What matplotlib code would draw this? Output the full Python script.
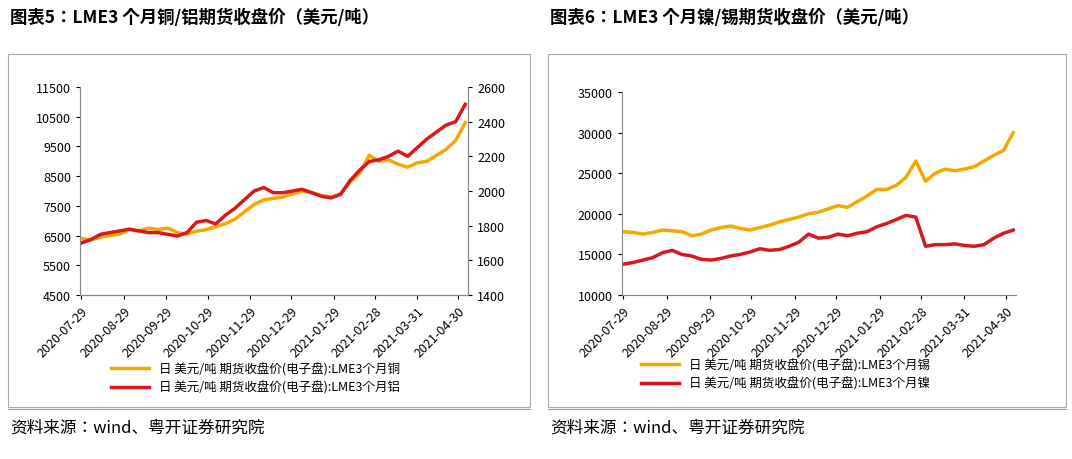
import matplotlib
matplotlib.use("Agg")
import matplotlib.pyplot as plt
import pandas as pd
from matplotlib.patches import Rectangle
from matplotlib import font_manager as fm

cjk = sorted({f.name for f in fm.fontManager.ttflist if 'CJK' in f.name and 'Sans' in f.name})
pref = [n for n in cjk if n.endswith('SC')] + [n for n in cjk if 'SC' in n] + cjk
plt.rcParams['font.family'] = (pref[:1] if pref else []) + ['DejaVu Sans']

copper = [6400, 6350, 6450, 6500, 6550, 6700, 6650, 6750, 6700, 6750, 6600, 6550, 6650, 6700, 6800, 6900, 7050,
          7300, 7550, 7700, 7750, 7800, 7900, 8000, 7950, 7850, 7800, 7900, 8300, 8600, 9200, 9000, 9050, 8900,
          8800, 8950, 9000, 9200, 9400, 9700, 10300]
alum = [1700, 1720, 1750, 1760, 1770, 1780, 1770, 1760, 1760, 1750, 1740, 1760, 1820, 1830, 1810, 1860, 1900,
        1950, 2000, 2020, 1990, 1990, 2000, 2010, 1990, 1970, 1960, 1980, 2060, 2120, 2170, 2180, 2200, 2230,
        2200, 2250, 2300, 2340, 2380, 2400, 2500]
tin = [17800, 17700, 17500, 17700, 18000, 17900, 17800, 17300, 17500, 18000, 18300, 18500, 18200, 18000, 18300,
       18600, 19000, 19300, 19600, 20000, 20200, 20600, 21000, 20800, 21500, 22200, 23000, 23000, 23500, 24500,
       26500, 24000, 25000, 25500, 25300, 25500, 25800, 26500, 27200, 27800, 30000]
nickel = [13800, 14000, 14300, 14600, 15200, 15500, 15000, 14800, 14400, 14300, 14500, 14800, 15000, 15300, 15700,
          15500, 15600, 16000, 16500, 17500, 17000, 17100, 17500, 17300, 17600, 17800, 18400, 18800, 19300, 19800,
          19600, 16000, 16200, 16200, 16300, 16100, 16000, 16200, 17000, 17600, 18000]
dates = pd.date_range('2020-07-29', periods=len(copper), freq='7D')
ticks = pd.to_datetime(['2020-07-29', '2020-08-29', '2020-09-29', '2020-10-29', '2020-11-29', '2020-12-29',
                        '2021-01-29', '2021-02-28', '2021-03-31', '2021-04-30'])
tick_labels = [t.strftime('%Y-%m-%d') for t in ticks]

ORANGE = '#f5a800'
RED = '#d7191c'

fig = plt.figure(figsize=(10.72, 4.6), dpi=100)
W, H = 1072, 460
def ax_px(x0, y0, x1, y1):
    return fig.add_axes([x0 / W, 1 - y1 / H, (x1 - x0) / W, (y1 - y0) / H])

for x0, x1 in [(8, 530), (548, 1066)]:
    fig.patches.append(Rectangle((x0 / W, 1 - 408 / H), (x1 - x0) / W, (408 - 55) / H,
                                 transform=fig.transFigure, fill=False, ec='#aaaaaa', lw=0.8))
    fig.add_artist(plt.Line2D([x0 / W, x1 / W], [1 - 410 / H] * 2, color='#999999', lw=0.8))

fig.text(10 / W, 1 - 18 / H, '图表5：LME3 个月铜/铝期货收盘价（美元/吨）', fontsize=12.5, fontweight='bold', va='center')
fig.text(550 / W, 1 - 18 / H, '图表6：LME3 个月镍/锡期货收盘价（美元/吨）', fontsize=12.5, fontweight='bold', va='center')
fig.text(10 / W, 1 - 428 / H, '资料来源：wind、粤开证券研究院', fontsize=12, style='italic', va='center')
fig.text(550 / W, 1 - 428 / H, '资料来源：wind、粤开证券研究院', fontsize=12, style='italic', va='center')

def style(ax, right=True):
    ax.spines['top'].set_visible(False)
    ax.spines['right'].set_visible(right)
    for s in ax.spines.values():
        s.set_color('#888888'); s.set_linewidth(0.8)
    ax.set_xticks(ticks)
    ax.set_xticklabels(tick_labels, rotation=45, ha='right', rotation_mode='anchor', fontsize=9)
    ax.tick_params(labelsize=9, length=3)
    ax.set_xlim(dates[0] - pd.Timedelta(days=1), dates[-1] + pd.Timedelta(days=2))

ax1 = ax_px(80, 88, 468, 296)
ax1.plot(dates, copper, color=ORANGE, lw=2.5, label='日 美元/吨 期货收盘价(电子盘):LME3个月铜')
ax1.set_ylim(4500, 11500)
ax1.set_yticks(range(4500, 11501, 1000))
style(ax1)
ax1b = ax1.twinx()
ax1b.plot(dates, alum, color=RED, lw=2.5, label='日 美元/吨 期货收盘价(电子盘):LME3个月铝')
ax1b.set_ylim(1400, 2600)
ax1b.set_yticks(range(1400, 2601, 200))
ax1b.tick_params(labelsize=9, length=3)
ax1b.spines['top'].set_visible(False)
for s in ax1b.spines.values():
    s.set_color('#888888'); s.set_linewidth(0.8)
h = ax1.get_legend_handles_labels()[0] + ax1b.get_legend_handles_labels()[0]
l = ax1.get_legend_handles_labels()[1] + ax1b.get_legend_handles_labels()[1]
fig.legend(h, l, loc='upper left', bbox_to_anchor=(100 / W, 1 - 352 / H), frameon=False, fontsize=9,
           handlelength=3, labelspacing=0.4)

ax2 = ax_px(622, 93, 1016, 296)
ax2.plot(dates, tin, color=ORANGE, lw=2.5, label='日 美元/吨 期货收盘价(电子盘):LME3个月锡')
ax2.plot(dates, nickel, color=RED, lw=2.5, label='日 美元/吨 期货收盘价(电子盘):LME3个月镍')
ax2.set_ylim(10000, 35000)
ax2.set_yticks(range(10000, 35001, 5000))
style(ax2, right=False)
fig.legend(*ax2.get_legend_handles_labels(), loc='upper left', bbox_to_anchor=(630 / W, 1 - 348 / H),
           frameon=False, fontsize=9, handlelength=3, labelspacing=0.4)

fig.savefig('out.png', dpi=100)
